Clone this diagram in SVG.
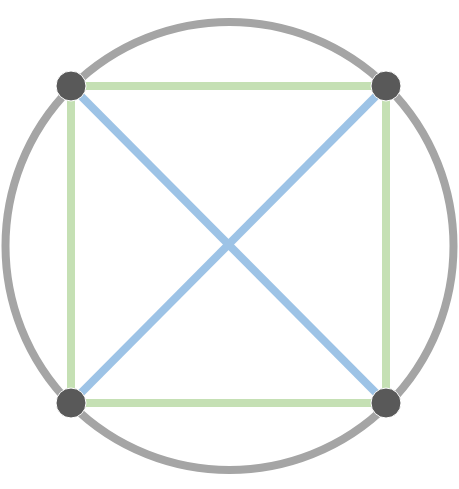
<svg xmlns="http://www.w3.org/2000/svg" width="459" height="489" viewBox="0 0 459 489">
<style>
.ring{fill:none;stroke:#a5a5a5;stroke-width:8}
.side{stroke:#c5e0b4;stroke-width:8}
.diag{stroke:#9dc3e6;stroke-width:8}
.node{fill:#595959;stroke:#ffffff;stroke-width:1}
</style>
<rect width="459" height="489" fill="#ffffff"/>
<g id="circle"><circle class="ring" cx="229.5" cy="246" r="224"/></g>
<g id="connectors">
<line class="side" x1="71" y1="86" x2="386" y2="86"/>
<line class="side" x1="386" y1="86" x2="386" y2="403"/>
<line class="side" x1="386" y1="403" x2="71" y2="403"/>
<line class="side" x1="71" y1="403" x2="71" y2="86"/>
<line class="diag" x1="71" y1="86" x2="386" y2="403"/>
<line class="diag" x1="386" y1="86" x2="71" y2="403"/>
</g>
<g id="n1"><circle class="node" cx="71" cy="86" r="15"/></g>
<g id="n2"><circle class="node" cx="386" cy="86" r="15"/></g>
<g id="n3"><circle class="node" cx="71" cy="403" r="15"/></g>
<g id="n4"><circle class="node" cx="386" cy="403" r="15"/></g>
</svg>
